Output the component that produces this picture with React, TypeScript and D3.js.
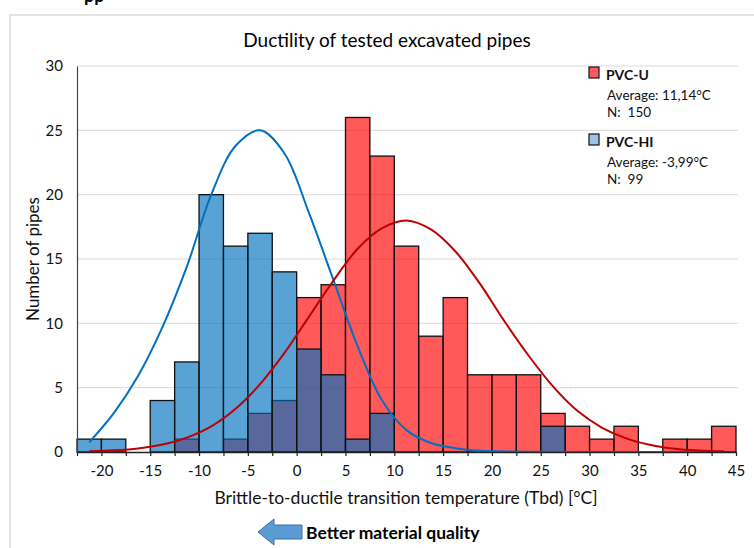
import React, { useEffect, useRef } from 'react';
import * as d3 from 'd3';

// bins are 2.5 °C wide, value = lower edge of the bin
const binStarts = [-22.5, -20, -17.5, -15, -12.5, -10, -7.5, -5, -2.5, 0, 2.5, 5, 7.5, 10, 12.5, 15, 17.5, 20, 22.5, 25, 27.5, 30, 32.5, 35, 37.5, 40, 42.5];
const pvcU = [0, 0, 0, 0, 1, 0, 1, 3, 4, 12, 13, 26, 23, 16, 9, 12, 6, 6, 6, 3, 2, 1, 2, 0, 1, 1, 2];
const pvcHI = [1, 1, 0, 4, 7, 20, 16, 17, 14, 8, 6, 1, 3, 0, 0, 0, 0, 0, 0, 2, 0, 0, 0, 0, 0, 0, 0];
// fitted curves read at bin centres
const curveU = [0.05, 0.13, 0.28, 0.58, 1.12, 2.0, 3.37, 5.27, 7.7, 10.5, 13.3, 15.8, 17.4, 18.0, 17.3, 15.6, 13.1, 10.2, 7.5, 5.1, 3.2, 1.9, 1.06, 0.55, 0.26, 0.12, 0.05];
const curveHI = [0.75, 3.0, 5.9, 9.7, 14.4, 20.0, 23.8, 25.0, 23.2, 18.6, 13.4, 8.2, 4.0, 1.7, 0.7, 0.3, 0.1, 0.04, 0.01, 0, 0, 0, 0, 0, 0, 0, 0];
const xTicks = [-22.5, -20, -17.5, -15, -12.5, -10, -7.5, -5, -2.5, 0, 2.5, 5, 7.5, 10, 12.5, 15, 17.5, 20, 22.5, 25, 27.5, 30, 32.5, 35, 37.5, 40, 42.5, 45];
const yTicks = [0, 5, 10, 15, 20, 25, 30];
const binWidth = 2.5;

const legend = [
  { name: 'PVC-U', avg: 'Average: 11,14°C', n: 'N:  150', color: '#FF5A5E' },
  { name: 'PVC-HI', avg: 'Average: -3,99°C', n: 'N:  99', color: '#9DC3E6' },
];

const FONT = 'Lato, "Open Sans", sans-serif';

export default function App() {
  const ref = useRef<SVGSVGElement>(null);

  useEffect(() => {
    const svg = d3.select(ref.current);
    svg.selectAll('*').remove();

    const x = d3.scaleLinear().domain([-22.5, 45]).range([77, 736]);
    const y = d3.scaleLinear().domain([0, 30]).range([452, 66]);

    // chart area frame (partly outside the picture)
    svg.append('rect').attr('x', 10).attr('y', 15).attr('width', 800).attr('height', 600)
      .attr('fill', 'white').attr('stroke', '#D9D9D9').attr('stroke-width', 1.5);

    // cut off heading above the chart
    svg.append('text').attr('x', 84).attr('y', 2).attr('font-family', FONT)
      .attr('font-weight', 'bold').attr('font-size', 18).attr('fill', '#000').text('pp');

    svg.append('text').attr('x', 387).attr('y', 47).attr('text-anchor', 'middle')
      .attr('font-family', FONT).attr('font-size', 19).attr('fill', '#000')
      .text('Ductility of tested excavated pipes');

    // gridlines
    svg.append('g').selectAll('line').data(yTicks.filter((d) => d > 0)).enter().append('line')
      .attr('x1', 77).attr('x2', 738).attr('y1', (d) => y(d)).attr('y2', (d) => y(d))
      .attr('stroke', '#D9D9D9').attr('stroke-width', 1);

    const bars = (vals: number[], fill: string) => {
      svg.append('g').selectAll('rect').data(binStarts.map((b, i) => ({ b, v: vals[i] })).filter((d) => d.v > 0))
        .enter().append('rect')
        .attr('x', (d) => x(d.b))
        .attr('y', (d) => y(d.v))
        .attr('width', (d) => x(d.b + binWidth) - x(d.b))
        .attr('height', (d) => y(0) - y(d.v))
        .attr('fill', fill).attr('fill-opacity', 0.65)
        .attr('stroke', '#111').attr('stroke-width', 1.3);
    };
    bars(pvcU, '#FF0000');
    bars(pvcHI, '#0070C0');

    const line = (vals: number[]) => d3.line<number>()
      .x((_, i) => x(binStarts[i] + binWidth / 2))
      .y((d) => y(d))
      .curve(d3.curveCatmullRom.alpha(0.5))(vals);
    svg.append('path').attr('d', line(curveHI)).attr('fill', 'none').attr('stroke', '#0070C0').attr('stroke-width', 2);
    svg.append('path').attr('d', line(curveU)).attr('fill', 'none').attr('stroke', '#C00000').attr('stroke-width', 2);

    // axes
    const xAxis = svg.append('g').attr('transform', 'translate(0,452)')
      .call(d3.axisBottom(x).tickValues(xTicks).tickSize(4).tickSizeOuter(0)
        .tickFormat((d) => (Number(d) % 5 === 0 ? String(d) : '')));
    xAxis.select('.domain').attr('stroke', '#222').attr('stroke-width', 1.3);
    xAxis.selectAll('.tick line').attr('stroke', '#222').attr('stroke-width', 1.2);
    xAxis.selectAll('.tick text').attr('font-family', FONT).attr('font-size', 15).attr('fill', '#111').attr('dy', '1.0em').attr('y', 9);

    const yAxis = svg.append('g').attr('transform', 'translate(77,0)')
      .call(d3.axisLeft(y).tickValues(yTicks).tickSize(0).tickPadding(14));
    yAxis.select('.domain').attr('stroke', '#444').attr('stroke-width', 1.2);
    yAxis.selectAll('.tick text').attr('font-family', FONT).attr('font-size', 15).attr('fill', '#111');

    svg.append('text').attr('transform', 'translate(39,259) rotate(-90)').attr('text-anchor', 'middle')
      .attr('font-family', FONT).attr('font-size', 17).attr('fill', '#111').text('Number of pipes');
    svg.append('text').attr('x', 406).attr('y', 504).attr('text-anchor', 'middle')
      .attr('font-family', FONT).attr('font-size', 17.5).attr('fill', '#111')
      .text('Brittle-to-ductile transition temperature (Tbd) [°C]');

    // legend
    legend.forEach((l, i) => {
      const top = 67 + i * 67;
      svg.append('rect').attr('x', 589).attr('y', top).attr('width', 10).attr('height', 11)
        .attr('fill', l.color).attr('stroke', '#111').attr('stroke-width', 1.2);
      svg.append('text').attr('x', 606).attr('y', top + 13).attr('font-family', FONT)
        .attr('font-weight', 'bold').attr('font-size', 14).attr('fill', '#111').text(l.name);
      svg.append('text').attr('x', 607).attr('y', top + 33).attr('font-family', FONT)
        .attr('font-size', 13.5).attr('fill', '#111').text(l.avg);
      svg.append('text').attr('x', 607).attr('y', top + 50).attr('font-family', FONT)
        .attr('font-size', 13.5).attr('fill', '#111').style('white-space', 'pre').text(l.n);
    });

    // arrow note
    const arrow = d3.path();
    arrow.moveTo(258, 532);
    arrow.lineTo(274, 519);
    arrow.lineTo(274, 525);
    arrow.lineTo(302, 525);
    arrow.lineTo(302, 539);
    arrow.lineTo(274, 539);
    arrow.lineTo(274, 545);
    arrow.closePath();
    svg.append('path').attr('d', arrow.toString()).attr('fill', '#5B9BD5').attr('stroke', '#41719C').attr('stroke-width', 1);
    svg.append('text').attr('x', 306).attr('y', 539).attr('font-family', FONT)
      .attr('font-weight', 'bold').attr('font-size', 17.5).attr('fill', '#000').text('Better material quality');
  }, []);

  return (
    <svg ref={ref} width={754} height={548}
      style={{ position: 'absolute', left: 0, top: 0, background: 'white' }} />
  );
}
